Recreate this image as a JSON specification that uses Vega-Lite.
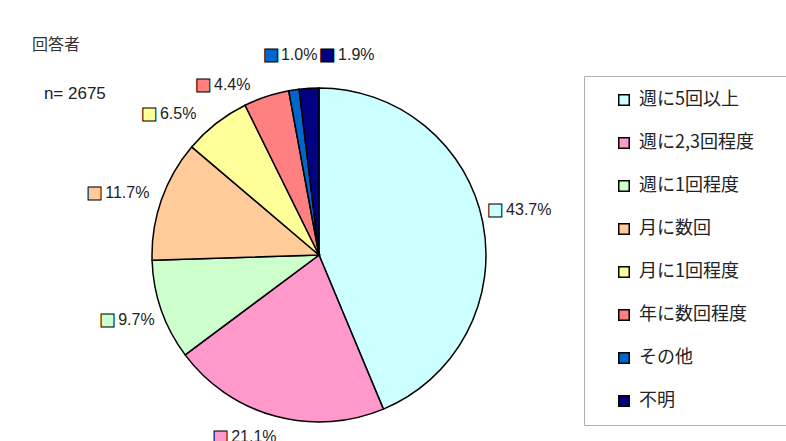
{
  "$schema": "https://vega.github.io/schema/vega-lite/v6.json",
  "width": 638,
  "height": 300,
  "autosize": {"type": "none"},
  "padding": {"left": 0, "top": 105, "right": 148, "bottom": 36},
  "background": "white",
  "view": {"stroke": null},
  "title": {
    "text": "回答者",
    "subtitle": "\u200b\u2002\u2009n= 2675",
    "anchor": "start",
    "frame": "group",
    "orient": "top",
    "dx": 32,
    "dy": 59,
    "offset": 3,
    "font": "Noto Sans CJK JP",
    "fontSize": 16,
    "fontWeight": "normal",
    "color": "#333333",
    "subtitleFont": "Liberation Sans",
    "subtitleFontSize": 17,
    "subtitleColor": "#222222",
    "subtitlePadding": 33
  },
  "data": {
    "values": [
      {"cat": "週に5回以上", "pct": 43.7, "label": "43.7%", "i": 1},
      {"cat": "週に2,3回程度", "pct": 21.1, "label": "21.1%", "i": 2},
      {"cat": "週に1回程度", "pct": 9.7, "label": "9.7%", "i": 3},
      {"cat": "月に数回", "pct": 11.7, "label": "11.7%", "i": 4},
      {"cat": "月に1回程度", "pct": 6.5, "label": "6.5%", "i": 5},
      {"cat": "年に数回程度", "pct": 4.4, "label": "4.4%", "i": 6},
      {"cat": "その他", "pct": 1.0, "label": "1.0%", "i": 7},
      {"cat": "不明", "pct": 1.9, "label": "1.9%", "i": 8}
    ]
  },
  "encoding": {
    "theta": {"field": "pct", "type": "quantitative", "stack": true},
    "order": {"field": "i", "type": "quantitative"}
  },
  "layer": [
    {
      "mark": {"type": "arc", "outerRadius": 167, "stroke": "black", "strokeWidth": 1.5},
      "encoding": {
        "color": {
          "field": "cat",
          "type": "nominal",
          "sort": ["週に5回以上", "週に2,3回程度", "週に1回程度", "月に数回", "月に1回程度", "年に数回程度", "その他", "不明"],
          "scale": {
            "domain": ["週に5回以上", "週に2,3回程度", "週に1回程度", "月に数回", "月に1回程度", "年に数回程度", "その他", "不明"],
            "range": ["#CCFFFF", "#FF99CC", "#CCFFCC", "#FFCC99", "#FFFF99", "#FF8080", "#0066CC", "#000080"]
          },
          "legend": {
            "title": "MM",
            "titleOrient": "right",
            "titleColor": "rgba(0,0,0,0)",
            "titleFontSize": 17,
            "titlePadding": 0,
            "titleLimit": 300,
            "orient": "none",
            "legendX": 584,
            "legendY": -29,
            "symbolType": "square",
            "symbolSize": 110,
            "symbolStrokeColor": "black",
            "symbolStrokeWidth": 1.5,
            "symbolOffset": 16,
            "padding": 15,
            "rowPadding": 25,
            "labelFont": "Noto Sans CJK JP",
            "labelFontSize": 18,
            "labelOffset": 6,
            "labelColor": "#222222",
            "strokeColor": "#b0b0b0",
            "fillColor": "white"
          }
        }
      }
    },
    {
      "mark": {
        "type": "text",
        "radius": 200,
        "text": "■",
        "font": "DejaVu Sans",
        "fontSize": 17,
        "align": "center",
        "baseline": "middle",
        "stroke": "black",
        "strokeWidth": 1,
        "dx": {"expr": "-20 + (datum.i==2?-26:datum.i==3?-3:datum.i==4?-16:datum.i==5?-27:datum.i==6?-33:datum.i==7?2:datum.i==8?40:0)"},
        "dy": {"expr": "datum.i==1?-6:datum.i==2?-11:datum.i==3?-1:datum.i==4?4:datum.i==5?17:datum.i==6?20:datum.i==7?-2:0"}
      },
      "encoding": {
        "color": {"field": "cat", "type": "nominal", "legend": null}
      }
    },
    {
      "mark": {
        "type": "text",
        "radius": 200,
        "font": "Liberation Sans",
        "fontSize": 16,
        "align": "left",
        "baseline": "middle",
        "color": "#222222",
        "dx": {"expr": "-9 + (datum.i==2?-26:datum.i==3?-3:datum.i==4?-16:datum.i==5?-27:datum.i==6?-33:datum.i==7?1:datum.i==8?40:0)"},
        "dy": {"expr": "datum.i==1?-6:datum.i==2?-11:datum.i==3?-1:datum.i==4?4:datum.i==5?17:datum.i==6?20:datum.i==7?-2:0"}
      },
      "encoding": {
        "text": {"field": "label", "type": "nominal"}
      }
    }
  ]
}
